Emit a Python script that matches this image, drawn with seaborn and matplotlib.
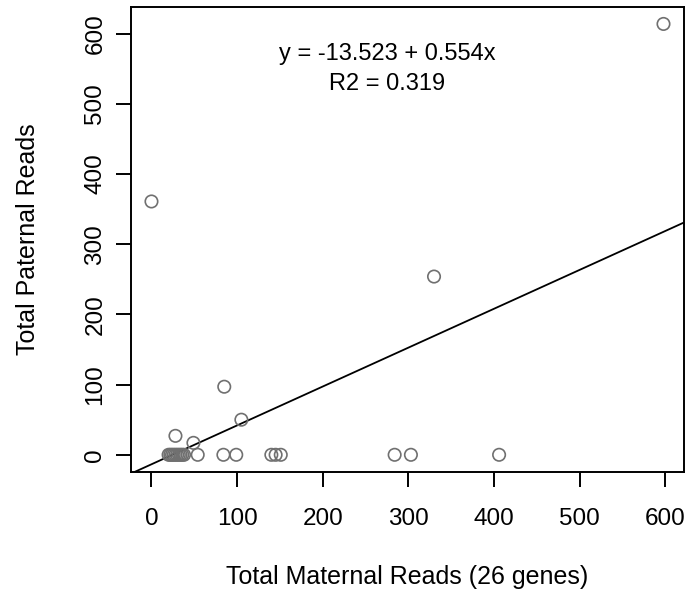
import numpy as np
import pandas as pd
import seaborn as sns
import matplotlib.pyplot as plt

# ============ Data ============
maternal = [0, 598, 330, 85, 105, 28, 49, 54, 84, 99,
            140, 145, 151, 284, 303, 406,
            20, 22, 24, 26, 28, 30, 32, 34, 36, 38]
paternal = [361, 614, 254, 97, 50, 27, 17, 0, 0, 0,
            0, 0, 0, 0, 0, 0,
            0, 0, 0, 0, 0, 0, 0, 0, 0, 0]

intercept = -13.523
slope = 0.554
r2 = 0.319

df = pd.DataFrame({'maternal': maternal, 'paternal': paternal})

# ============ Style ============
sns.set_style('ticks')
plt.rcParams['font.family'] = ['Liberation Sans', 'DejaVu Sans']
plt.rcParams['font.size'] = 17
plt.rcParams['text.color'] = 'black'
plt.rcParams['axes.labelcolor'] = 'black'
plt.rcParams['xtick.color'] = 'black'
plt.rcParams['ytick.color'] = 'black'

fig = plt.figure(figsize=(6.92, 5.93), dpi=100)
ax = fig.add_axes([0.1893, 0.2040, 0.7991, 0.7847])

sns.scatterplot(data=df, x='maternal', y='paternal', ax=ax,
                marker='o', s=80, facecolor='none', edgecolor='#707070',
                linewidth=1.2, zorder=3)

# R-style range: data range padded by 4%
xmin, xmax = min(maternal), max(maternal)
ymin, ymax = min(paternal), max(paternal)
ax.set_xlim(xmin - 0.04 * (xmax - xmin), xmax + 0.04 * (xmax - xmin))
ax.set_ylim(ymin - 0.04 * (ymax - ymin), ymax + 0.04 * (ymax - ymin))

ax.axline((0, intercept), slope=slope, color='black', linewidth=1.3)

ax.text(275, 571, f"y = {intercept} + {slope}x", ha='center', va='center', fontsize=17)
ax.text(275, 529, f"R2 = {r2}", ha='center', va='center', fontsize=17)

ticks = [0, 100, 200, 300, 400, 500, 600]
ax.set_xticks(ticks)
ax.set_yticks(ticks)
for lab in ax.get_yticklabels():
    lab.set_rotation(90)
    lab.set_va('center')

for sp in ax.spines.values():
    sp.set_visible(True)
    sp.set_color('black')
    sp.set_linewidth(1.4)
ax.tick_params(direction='out', length=10.8, width=1.4, color='black',
               labelcolor='black', labelsize=17.5)
ax.tick_params(axis='x', pad=15)
ax.tick_params(axis='y', pad=7)

ax.set_xlabel('Total Maternal Reads (26 genes)', fontsize=18, va='center')
ax.set_ylabel('Total Paternal Reads', fontsize=18, va='center')
ax.xaxis.set_label_coords(0.5, -0.2257)
ax.yaxis.set_label_coords(-0.1863, 0.5)

fig.savefig('out.png', dpi=100)
